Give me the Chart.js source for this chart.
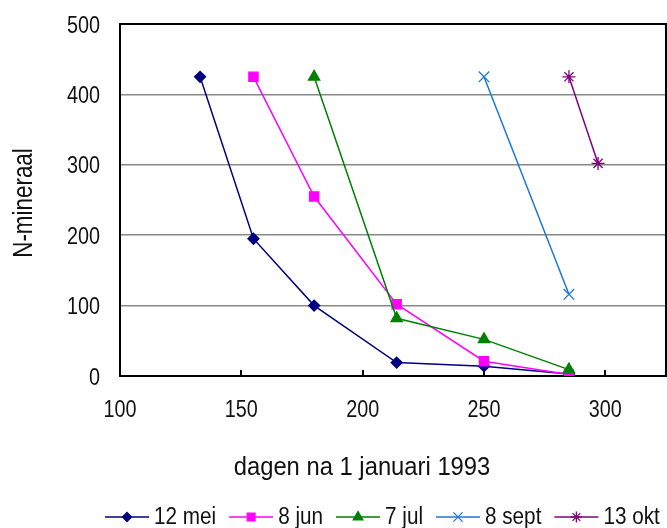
<!DOCTYPE html>
<html>
<head>
<meta charset="utf-8">
<script src="https://cdn.jsdelivr.net/npm/chart.js@4/dist/chart.umd.min.js"></script>
<style>
html,body{margin:0;padding:0;background:#fff}
canvas{display:block}
</style>
</head>
<body>
<canvas id="c" width="667" height="528"></canvas>
<script>
const FONT = "'Liberation Sans',Arial,sans-serif";

// bemonsteringsdata: dag van het jaar en N-mineraal per bemestingsdatum
const reeksNamen = ['12 mei', '8 jun', '7 jul', '8 sept', '13 okt'];
const dagMei  = [133, 155, 180, 214, 250, 285];
const nMei    = [425, 195, 100, 19, 14, 3];
const dagJun  = [155, 180, 214, 250, 285];
const nJun    = [425, 255, 102, 21, 2];
const dagJul  = [180, 214, 250, 285];
const nJul    = [425, 82, 52, 9];
const dagSept = [250, 285];
const nSept   = [425, 116];
const dagOkt  = [285, 297];
const nOkt    = [425, 302];

const xTicks = [100, 150, 200, 250, 300];
const yTicks = [0, 100, 200, 300, 400, 500];
const xTitel = 'dagen na 1 januari 1993';
const yTitel = 'N-mineraal';

const reeksen = [[dagMei, nMei], [dagJun, nJun], [dagJul, nJul], [dagSept, nSept], [dagOkt, nOkt]];
const kleuren = ['#000080', '#ff00ff', '#008000', '#1a78d8', '#800080'];
const vormen = ['rectRot', 'rect', 'triangle', 'crossRot', 'star'];
const straal = [5.5, 6.5, 6.5, 7.5, 6.5];

const datasets = reeksen.map(([xs, ys], i) => ({
  label: reeksNamen[i],
  data: xs.map((x, j) => ({x, y: ys[j]})),
  showLine: true,
  borderColor: kleuren[i],
  backgroundColor: kleuren[i],
  borderWidth: 1.5,
  pointStyle: vormen[i],
  pointRadius: straal[i],
  pointBorderWidth: 1.3,
  pointBackgroundColor: kleuren[i],
  pointBorderColor: kleuren[i],
  order: reeksen.length - i   // latere reeksen bovenop
}));

// smalle letter: Liberation Sans horizontaal samengedrukt
function tekst(ctx, s, x, y, size, sx, align) {
  ctx.save();
  ctx.translate(x, y);
  ctx.scale(sx, 1);
  ctx.font = size + 'px ' + FONT;
  ctx.textAlign = align;
  ctx.textBaseline = 'alphabetic';
  ctx.fillText(s, 0, 0);
  ctx.restore();
}

const opmaak = {
  id: 'opmaak',
  beforeDatasetsDraw(chart) {
    const {ctx, chartArea: a, scales: {x}} = chart;
    ctx.save();
    ctx.strokeStyle = '#000';
    ctx.lineWidth = 2;
    ctx.strokeRect(a.left, a.top, a.right - a.left, a.bottom - a.top);
    x.ticks.forEach(t => {
      const px = Math.round(x.getPixelForValue(t.value));
      ctx.beginPath(); ctx.moveTo(px, a.bottom); ctx.lineTo(px, a.bottom - 6); ctx.stroke();
    });
    ctx.restore();
  },
  afterDraw(chart) {
    const {ctx, scales: {x, y}} = chart;
    ctx.save();
    ctx.fillStyle = '#111';

    // aslabels
    y.ticks.forEach(t => tekst(ctx, String(t.value), 100, y.getPixelForValue(t.value) + 8.5, 23, 0.86, 'right'));
    x.ticks.forEach(t => tekst(ctx, String(t.value), x.getPixelForValue(t.value), 417, 23, 0.86, 'center'));

    // astitels
    tekst(ctx, xTitel, 362, 475, 26, 0.915, 'center');
    ctx.save();
    ctx.translate(32, 203);
    ctx.rotate(-Math.PI / 2);
    tekst(ctx, yTitel, 0, 0, 27, 0.83, 'center');
    ctx.restore();

    // legenda: lijnstuk met markering, dan tekst
    const lijn = 44, yMid = 517, sx = 0.9;
    let xPos = 105;
    chart.data.datasets.forEach(ds => {
      ctx.strokeStyle = ds.borderColor;
      ctx.fillStyle = ds.borderColor;
      ctx.lineWidth = 1.5;
      ctx.beginPath(); ctx.moveTo(xPos, yMid); ctx.lineTo(xPos + lijn, yMid); ctx.stroke();
      ctx.lineWidth = 1.3;
      Chart.helpers.drawPoint(ctx, {pointStyle: ds.pointStyle, radius: ds.pointRadius - 1, borderWidth: 1.3, rotation: 0}, xPos + lijn / 2, yMid);
      ctx.fillStyle = '#111';
      tekst(ctx, ds.label, xPos + lijn + 5, 524, 23, sx, 'left');
      ctx.font = '23px ' + FONT;
      xPos += lijn + 5 + ctx.measureText(ds.label).width * sx + 13;
    });
    ctx.restore();
  }
};

const zonderMarge = s => { s.paddingTop = 0; s.paddingBottom = 0; s.paddingLeft = 0; s.paddingRight = 0; };

new Chart(document.getElementById('c'), {
  type: 'scatter',
  data: {datasets},
  options: {
    responsive: false,
    animation: false,
    events: [],
    layout: {autoPadding: false, padding: {top: 24, right: 1, left: 0, bottom: 0}},
    plugins: {legend: {display: false}, tooltip: {enabled: false}},
    scales: {
      x: {
        type: 'linear', min: 100, max: 325,
        afterBuildTicks: s => { s.ticks = xTicks.map(v => ({value: v})); },
        afterFit: s => { s.height = 152; zonderMarge(s); },
        grid: {display: false, drawTicks: false},
        border: {display: false},
        ticks: {display: false}
      },
      y: {
        min: 0, max: 500,
        afterBuildTicks: s => { s.ticks = yTicks.map(v => ({value: v})); },
        afterFit: s => { s.width = 120; zonderMarge(s); },
        grid: {color: '#888', lineWidth: 1.6, drawTicks: false},
        border: {display: false},
        ticks: {display: false}
      }
    }
  },
  plugins: [opmaak]
});
</script>
</body>
</html>
